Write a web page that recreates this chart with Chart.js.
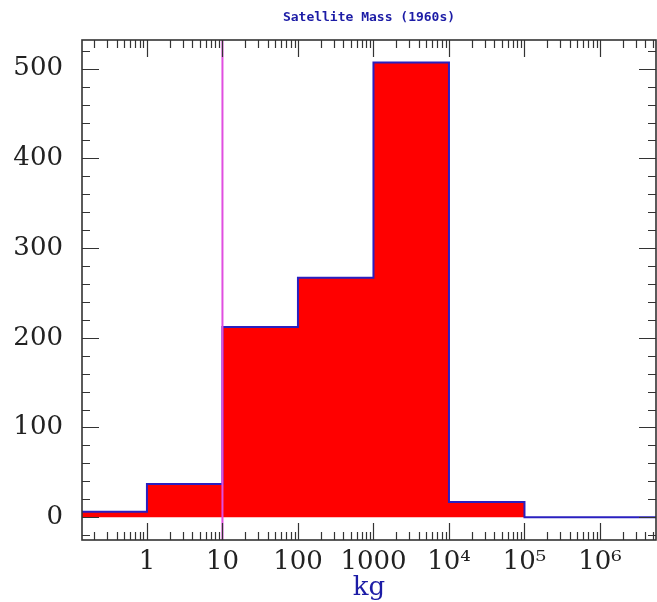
<!DOCTYPE html>
<html>
<head>
<meta charset="utf-8">
<title>Satellite Mass (1960s)</title>
<script src="https://cdn.jsdelivr.net/npm/chart.js@4.4.1/dist/chart.umd.min.js"></script>
<style>
  html, body { margin: 0; padding: 0; background: #fff; }
</style>
</head>
<body>
<canvas id="massChart" width="657" height="602"></canvas>
<script>
// log bins in kg: left edges of each bin, last entry closes the last bin
const binEdges = [0.1, 1, 10, 100, 1000, 1e4, 1e5, 1e7];
const binCounts = [6, 37, 212, 267, 507, 17, 0];
const markerMass = 10;

const xTicks = [1, 10, 100, 1000, 1e4, 1e5, 1e6];
const xTickLabels = ['1', '10', '100', '1000', '10⁴', '10⁵', '10⁶'];
const yTicks = [0, 100, 200, 300, 400, 500];

const X_MIN = 0.138, X_MAX = 5.52e6;
const Y_MIN = -25.5, Y_MAX = 532;

// box round the plot, with inward ticks on all four sides
const frameTicks = {
    id: 'frameTicks',
    afterDatasetsDraw(chart) {
        const { ctx, chartArea: a, scales: { x, y } } = chart;
        ctx.save();
        ctx.strokeStyle = '#333';
        ctx.lineWidth = 1.2;
        ctx.beginPath();
        for (let d = Math.floor(Math.log10(X_MIN)); d <= Math.ceil(Math.log10(X_MAX)); d++) {
            for (let k = 1; k <= 9; k++) {
                const v = k * Math.pow(10, d);
                if (v < X_MIN || v > X_MAX) continue;
                const px = Math.round(x.getPixelForValue(v)) + 0.5;
                const len = k === 1 ? 17 : 8;
                ctx.moveTo(px, a.bottom); ctx.lineTo(px, a.bottom - len);
                ctx.moveTo(px, a.top); ctx.lineTo(px, a.top + len);
            }
        }
        for (let v = Math.ceil(Y_MIN / 20) * 20; v <= Y_MAX; v += 20) {
            const py = Math.round(y.getPixelForValue(v)) + 0.5;
            const len = v % 100 === 0 ? 17 : 8;
            ctx.moveTo(a.left, py); ctx.lineTo(a.left + len, py);
            ctx.moveTo(a.right, py); ctx.lineTo(a.right - len, py);
        }
        ctx.stroke();
        ctx.lineWidth = 1.6;
        ctx.strokeRect(a.left, a.top, a.right - a.left, a.bottom - a.top);
        ctx.restore();
    }
};

function histogramPoints() {
    return binEdges.map((e, i) => ({ x: e, y: binCounts[Math.min(i, binCounts.length - 1)] }));
}

function renderChart() {
    const ctx = document.getElementById('massChart').getContext('2d');
    new Chart(ctx, {
        type: 'line',
        data: {
            datasets: [{
                label: 'marker',
                data: [{ x: markerMass, y: Y_MIN }, { x: markerMass, y: Y_MAX }],
                borderColor: '#e04ee0',
                borderWidth: 2,
                pointRadius: 0,
                fill: false
            }, {
                label: 'count',
                data: histogramPoints(),
                stepped: 'before',
                borderColor: '#2a20c0',
                borderWidth: 2,
                backgroundColor: '#ff0000',
                pointRadius: 0,
                fill: 'origin'
            }]
        },
        options: {
            responsive: false,
            animation: false,
            devicePixelRatio: 1,
            layout: { padding: { right: 1 } },
            plugins: {
                legend: { display: false },
                tooltip: { enabled: false },
                title: {
                    display: true,
                    text: 'Satellite Mass (1960s)',
                    fullSize: false,
                    color: '#1c1ca6',
                    font: { family: 'DejaVu Sans Mono', size: 13, weight: 'bold', lineHeight: 1.2 },
                    padding: { top: 10, bottom: 14.4 }
                }
            },
            scales: {
                x: {
                    type: 'logarithmic',
                    min: X_MIN,
                    max: X_MAX,
                    grid: { display: false, drawTicks: false },
                    border: { display: false },
                    afterBuildTicks: s => { s.ticks = xTicks.map(v => ({ value: v })); },
                    afterFit: s => { s.height = 62; },
                    ticks: {
                        autoSkip: false,
                        maxRotation: 0,
                        padding: 7,
                        color: '#222',
                        font: { family: 'DejaVu Serif', size: 26 },
                        callback: (v, i) => xTickLabels[i]
                    },
                    title: {
                        display: true,
                        text: 'kg',
                        color: '#1c1ca6',
                        font: { family: 'DejaVu Serif', size: 26, lineHeight: 1 },
                        padding: { top: 0, bottom: 1 }
                    }
                },
                y: {
                    min: Y_MIN,
                    max: Y_MAX,
                    grid: { display: false, drawTicks: false },
                    border: { display: false },
                    afterBuildTicks: s => { s.ticks = yTicks.map(v => ({ value: v })); },
                    afterFit: s => { s.width = 82; },
                    ticks: {
                        autoSkip: false,
                        padding: 19,
                        color: '#222',
                        font: { family: 'DejaVu Serif', size: 26 }
                    }
                }
            }
        },
        plugins: [frameTicks]
    });
}

renderChart();
</script>
</body>
</html>
